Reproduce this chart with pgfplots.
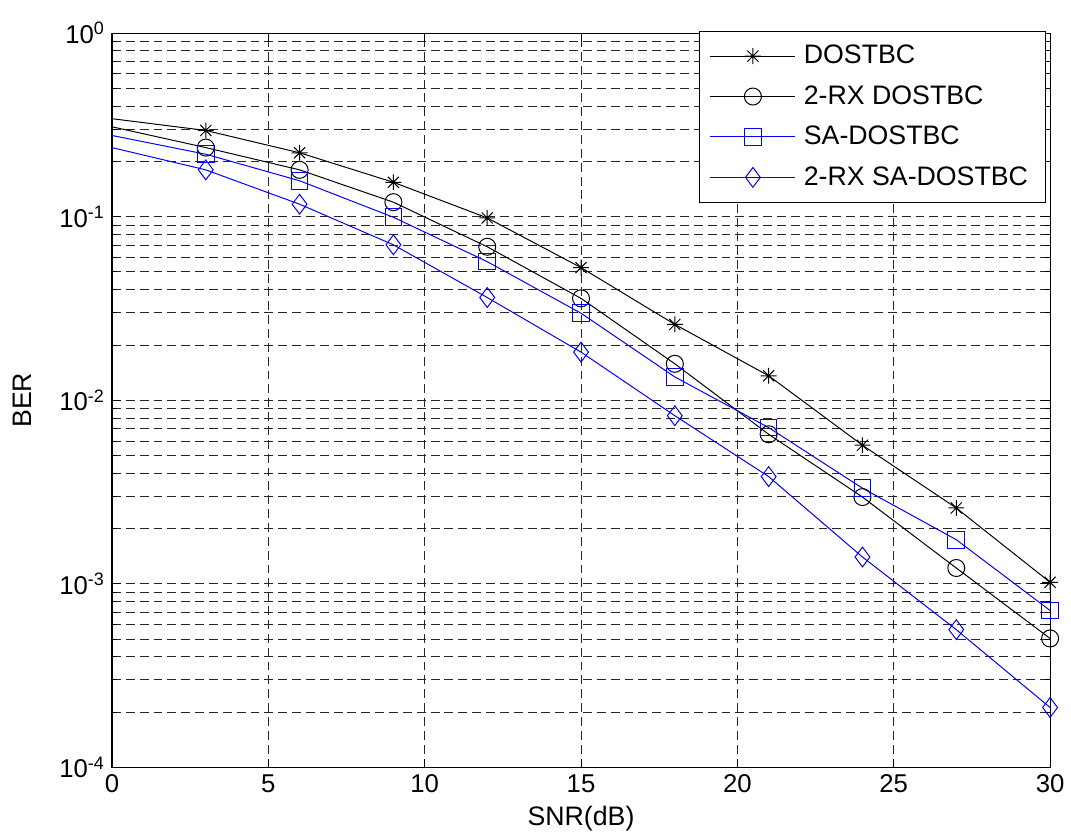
\documentclass[border={3.5pt 0pt 0pt 8pt}]{standalone}
\usepackage{fontspec}
\setmainfont{Liberation Sans}
\usepackage{pgfplots}
\pgfplotsset{compat=1.18}

% MATLAB-like asterisk: plus and cross together
\pgfdeclareplotmark{mstar}{%
  \pgfpathmoveto{\pgfqpoint{0pt}{\pgfplotmarksize}}%
  \pgfpathlineto{\pgfqpoint{0pt}{-\pgfplotmarksize}}%
  \pgfpathmoveto{\pgfqpoint{\pgfplotmarksize}{0pt}}%
  \pgfpathlineto{\pgfqpoint{-\pgfplotmarksize}{0pt}}%
  \pgfpathmoveto{\pgfqpoint{.7\pgfplotmarksize}{.7\pgfplotmarksize}}%
  \pgfpathlineto{\pgfqpoint{-.7\pgfplotmarksize}{-.7\pgfplotmarksize}}%
  \pgfpathmoveto{\pgfqpoint{.7\pgfplotmarksize}{-.7\pgfplotmarksize}}%
  \pgfpathlineto{\pgfqpoint{-.7\pgfplotmarksize}{.7\pgfplotmarksize}}%
  \pgfusepathqstroke}

\pgfplotstableread{
snr  ber
0    0.342
3    0.295
6    0.223
9    0.154
12   0.0985
15   0.0528
18   0.0259
21   0.0136
24   0.00569
27   0.00259
30   0.00102
}\dostbc
\pgfplotstableread{
snr  ber
0    0.309
3    0.238
6    0.180
9    0.120
12   0.0686
15   0.0359
18   0.0158
21   0.00653
24   0.00297
27   0.00122
30   0.000504
}\rxdostbc
\pgfplotstableread{
snr  ber
0    0.277
3    0.219
6    0.157
9    0.0993
12   0.0569
15   0.0298
18   0.0134
21   0.00710
24   0.00332
27   0.00174
30   0.000716
}\sadostbc
\pgfplotstableread{
snr  ber
0    0.238
3    0.180
6    0.117
9    0.0703
12   0.0363
15   0.0183
18   0.00824
21   0.00384
24   0.00140
27   0.000563
30   0.000212
}\rxsadostbc

\begin{document}
\begin{tikzpicture}
\begin{semilogyaxis}[
    width=474pt, height=371pt,
    scale only axis,
    xmin=0, xmax=30,
    ymin=1e-4, ymax=1,
    xtick={0,5,...,30},
    ytick={1e-4,1e-3,1e-2,1e-1,1},
    yticklabels={10\textsuperscript{-4},10\textsuperscript{-3},10\textsuperscript{-2},10\textsuperscript{-1},10\textsuperscript{0}},
    /pgf/number format/assume math mode=true,
    tick label style={font=\fontsize{13}{15}\selectfont},
    label style={font=\fontsize{13.5}{16}\selectfont},
    xlabel={SNR(dB)},
    ylabel={BER},
    ylabel style={yshift=7pt},
    xmajorgrids=true, ymajorgrids=true, yminorgrids=true,
    grid style={black!85, line width=0.5pt, dash pattern=on 4.5pt off 2.5pt},
    minor grid style={black!85, line width=0.5pt, dash pattern=on 4.5pt off 2.5pt},
    tick align=inside,
    major tick length=4.5pt, minor tick length=2.5pt,
    axis line style={line width=0.6pt},
    every tick/.style={black, line width=0.5pt},
    legend style={at={(rel axis cs:0.996,1.003)}, anchor=north east,
        font=\fontsize{13.5}{16}\selectfont, draw=black, line width=0.5pt,
        inner xsep=5pt, inner ysep=5pt, row sep=5.5pt,
        nodes={inner xsep=4pt}},
    legend cell align=left,
    legend image code/.code={%
        \draw[mark indices={2},#1] plot coordinates {(0pt,0pt) (21.5pt,0pt) (43pt,0pt)};},
    every axis plot/.append style={line width=0.5pt, mark indices={2,...,11}},
]
\addplot[black, mark=mstar, mark size=4pt] table[x=snr,y=ber] {\dostbc};
\addlegendentry{DOSTBC}
\addplot[black, mark=o, mark size=4.3pt] table[x=snr,y=ber] {\rxdostbc};
\addlegendentry{2-RX DOSTBC}
\addplot[blue, mark=square, mark size=4.2pt] table[x=snr,y=ber] {\sadostbc};
\addlegendentry{SA-DOSTBC}
\addplot[blue, mark=diamond, mark size=5pt] table[x=snr,y=ber] {\rxsadostbc};
\addlegendentry{2-RX SA-DOSTBC}
\end{semilogyaxis}
\end{tikzpicture}
\end{document}
